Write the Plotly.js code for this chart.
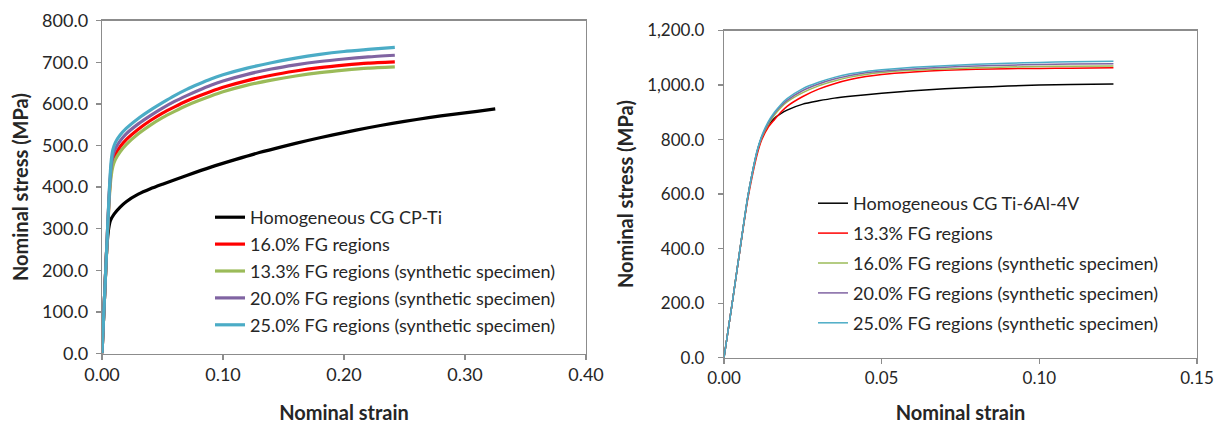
<!DOCTYPE html>
<html>
<head>
<meta charset="utf-8">
<script src="https://cdn.plot.ly/plotly-3.0.1.min.js"></script>
<style>html,body{margin:0;padding:0;background:#fff;}#chart{width:1226px;height:424px;}</style>
</head>
<body>
<div id="chart"></div>
<script>
// ---------- Left panel: CP-Ti ----------
const cpStrainBlack = [0,0.002,0.004,0.0055,0.007,0.01,0.015,0.02,0.03,0.04,0.05,0.07,0.09,0.11,0.13,0.15,0.17,0.19,0.21,0.23,0.25,0.27,0.29,0.31,0.325];
const cpStressBlack = [0,130,255,300,320,335,352,365,383,396,407,428,448,466,483,498,512,525,537,548,558,567,575,582,588];

const cpStrainFG = [0,0.002,0.004,0.006,0.0075,0.009,0.011,0.015,0.02,0.03,0.04,0.05,0.06,0.07,0.08,0.09,0.10,0.12,0.14,0.16,0.18,0.20,0.22,0.242];
const cpStress16 = [0,130,258,380,436,462,478,497,514,539,560,578,593,607,619,630,640,656,669,679,687,693,698,701];
const cpStress13 = [0,128,255,372,425,450,466,485,502,528,549,567,582,596,608,619,629,645,657,667,675,681,686,689];
const cpStress20 = [0,130,260,385,448,476,492,511,528,552,572,590,606,620,633,645,655,671,684,694,702,708,713,717];
const cpStress25 = [0,130,260,390,460,490,507,525,541,565,585,603,620,635,648,660,670,686,699,710,719,726,731,736];

const cpNames = ["Homogeneous CG CP-Ti","16.0% FG regions","13.3% FG regions (synthetic specimen)","20.0% FG regions (synthetic specimen)","25.0% FG regions (synthetic specimen)"];

// ---------- Right panel: Ti-6Al-4V ----------
const tiStrainBlack = [0,0.0026,0.0051,0.0074,0.009,0.0105,0.012,0.014,0.016,0.018,0.02,0.025,0.03,0.035,0.04,0.05,0.06,0.07,0.08,0.09,0.10,0.11,0.1235];
const tiStressBlack = [0,200,400,580,680,755,810,852,878,895,908,930,942,952,959,970,979,986,992,996,1000,1002,1004];

const tiStrainFG = [0,0.0026,0.0051,0.0074,0.009,0.0105,0.012,0.014,0.016,0.018,0.02,0.025,0.03,0.035,0.04,0.045,0.05,0.06,0.07,0.08,0.09,0.10,0.11,0.1235];
const tiStress13 = [0,200,398,572,668,745,800,845,873,900,922,958,985,1005,1020,1031,1039,1048,1054,1058,1060,1061,1062,1063];
const tiStress16 = [0,200,400,578,676,755,808,855,890,917,938,972,997,1015,1029,1039,1046,1054,1059,1063,1066,1068,1069,1070];
const tiStress20 = [0,200,400,580,678,758,810,860,896,923,944,980,1004,1022,1035,1045,1051,1059,1065,1070,1073,1075,1077,1078];
const tiStress25 = [0,200,400,582,680,760,815,865,900,928,950,987,1010,1028,1041,1050,1056,1065,1071,1076,1080,1083,1085,1087];

const tiNames = ["Homogeneous CG Ti-6Al-4V","13.3% FG regions","16.0% FG regions (synthetic specimen)","20.0% FG regions (synthetic specimen)","25.0% FG regions (synthetic specimen)"];

const colors = ["#000000","#FF0000","#9BBB59","#8064A2","#4BACC6"];

const cpX = [cpStrainBlack, cpStrainFG, cpStrainFG, cpStrainFG, cpStrainFG];
const cpY = [cpStressBlack, cpStress16, cpStress13, cpStress20, cpStress25];
const tiX = [tiStrainBlack, tiStrainFG, tiStrainFG, tiStrainFG, tiStrainFG];
const tiY = [tiStressBlack, tiStress13, tiStress16, tiStress20, tiStress25];

const traces = [];
for (let i = 0; i < 5; i++) {
  traces.push({x: cpX[i], y: cpY[i], name: cpNames[i], type: 'scatter', mode: 'lines',
    line: {color: colors[i], width: 3.2, shape: 'spline', smoothing: 0.6},
    xaxis: 'x', yaxis: 'y', legend: 'legend', legendgroup: 'a' + i});
}
for (let i = 0; i < 5; i++) {
  traces.push({x: tiX[i], y: tiY[i], name: tiNames[i], type: 'scatter', mode: 'lines',
    line: {color: colors[i], width: 1.5, shape: 'spline', smoothing: 0.6},
    xaxis: 'x2', yaxis: 'y2', legend: 'legend2', legendgroup: 'b' + i});
}

const gridC = '#8C8C8C';
const txt = '#262626';
const FONT = 'Lato, "Open Sans", sans-serif';

function axis(extra) {
  return Object.assign({
    showline: true, linecolor: gridC, linewidth: 1.3, mirror: true,
    ticks: 'outside', ticklen: 5, tickcolor: gridC, tickwidth: 1.3,
    showgrid: false, zeroline: false, automargin: false,
    tickfont: {family: FONT, size: 17, color: txt}
  }, extra);
}

const layout = {
  width: 1226, height: 424,
  margin: {l: 0, r: 0, t: 0, b: 0},
  paper_bgcolor: '#ffffff', plot_bgcolor: '#ffffff',
  font: {family: FONT, color: txt},
  showlegend: true,
  xaxis: axis({domain: [102/1226, 586/1226], range: [0, 0.4], dtick: 0.1, tick0: 0, tickformat: '.2f',
    anchor: 'y', tickfont: {family: FONT, size: 18, color: txt},
    title: {text: '<b>Nominal strain</b>', font: {family: FONT, size: 20, color: txt}}}),
  yaxis: axis({domain: [1 - 353.5/424, 1 - 20.7/424], range: [0, 800], dtick: 100, tick0: 0, tickformat: '.1f',
    anchor: 'x', tickfont: {family: FONT, size: 18, color: txt}, ticklabelstandoff: 4,
    title: {text: '<b>Nominal stress (MPa)</b>', font: {family: FONT, size: 20, color: txt}, standoff: 8}}),
  xaxis2: axis({domain: [724/1226, 1197/1226], range: [0, 0.15], dtick: 0.05, tick0: 0, tickformat: '.2f',
    anchor: 'y2',
    title: {text: '<b>Nominal strain</b>', font: {family: FONT, size: 20, color: txt}}}),
  yaxis2: axis({domain: [1 - 357.7/424, 1 - 30.5/424], range: [0, 1200], dtick: 200, tick0: 0, tickformat: ',.1f',
    anchor: 'x2', ticklabelstandoff: 10,
    title: {text: '<b>Nominal stress (MPa)</b>', font: {family: FONT, size: 20, color: txt}, standoff: 8}}),
  legend: {x: 210/1226, y: 1 - 199/424, xanchor: 'left', yanchor: 'top', bgcolor: 'rgba(0,0,0,0)',
    font: {family: FONT, size: 18, color: txt}, traceorder: 'grouped', tracegroupgap: 0.5, itemclick: false},
  legend2: {x: 813/1226, y: 1 - 185/424, xanchor: 'left', yanchor: 'top', bgcolor: 'rgba(0,0,0,0)',
    font: {family: FONT, size: 18, color: txt}, traceorder: 'grouped', tracegroupgap: 3.5, itemclick: false}
};

Plotly.newPlot('chart', traces, layout, {displayModeBar: false, staticPlot: true});
</script>
</body>
</html>
